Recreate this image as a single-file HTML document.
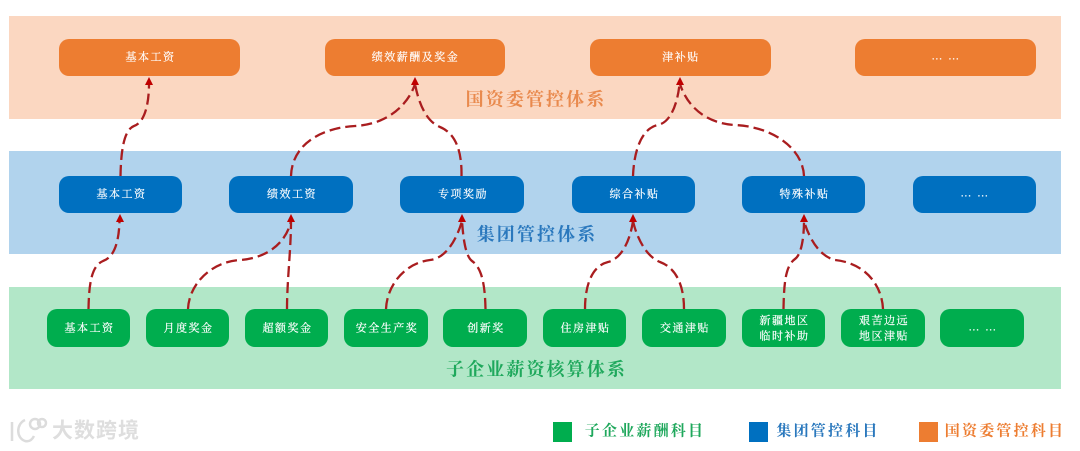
<!DOCTYPE html>
<html lang="zh">
<head>
<meta charset="utf-8">
<style>
html,body{margin:0;padding:0;background:#fff;width:1080px;height:451px;overflow:hidden}
svg{display:block}
text{font-family:"Liberation Serif","Noto Serif CJK SC",serif;text-anchor:middle}
.n{fill:#fff;stroke:#fff;stroke-width:.2;font-size:11px;letter-spacing:1.5px;dominant-baseline:central}
.t{font-size:18px;font-weight:700;letter-spacing:2.1px;dominant-baseline:central}
.l{font-size:15px;font-weight:700;letter-spacing:2.2px;dominant-baseline:central}
.c path{fill:none;stroke:#a91d1f;stroke-width:2.3;stroke-dasharray:11 5}
.a path{fill:#c00000}
</style>
</head>
<body>
<svg width="1080" height="451" viewBox="0 0 1080 451" xmlns="http://www.w3.org/2000/svg">
<rect x="9" y="16" width="1052" height="103" fill="#fbd7c1"/>
<rect x="9" y="151" width="1052" height="103" fill="#b1d3ed"/>
<rect x="9" y="287" width="1052" height="102" fill="#b2e7c8"/>

<g fill="#ed7d31">
<rect x="59" y="39" width="181" height="37" rx="10"/>
<rect x="325" y="39" width="180" height="37" rx="10"/>
<rect x="590" y="39" width="181" height="37" rx="10"/>
<rect x="855" y="39" width="181" height="37" rx="10"/>
</g>
<g fill="#0070c0">
<rect x="59" y="176" width="123" height="37" rx="10"/>
<rect x="229" y="176" width="124" height="37" rx="10"/>
<rect x="400" y="176" width="124" height="37" rx="10"/>
<rect x="572" y="176" width="123" height="37" rx="10"/>
<rect x="742" y="176" width="123" height="37" rx="10"/>
<rect x="913" y="176" width="123" height="37" rx="10"/>
</g>
<g fill="#00ad4e">
<rect x="47" y="309" width="83" height="38" rx="10"/>
<rect x="146" y="309" width="83" height="38" rx="10"/>
<rect x="245" y="309" width="83" height="38" rx="10"/>
<rect x="344" y="309" width="84" height="38" rx="10"/>
<rect x="443" y="309" width="84" height="38" rx="10"/>
<rect x="543" y="309" width="83" height="38" rx="10"/>
<rect x="642" y="309" width="84" height="38" rx="10"/>
<rect x="742" y="309" width="83" height="38" rx="10"/>
<rect x="841" y="309" width="84" height="38" rx="10"/>
<rect x="940" y="309" width="84" height="38" rx="10"/>
</g>

<g class="c">
<path d="M120.5 176 C121 150,124 130,134 126 C146 122,149 100,149 84"/>
<path d="M291 176 C292 145,320 128,355 126 C392 124,410 100,415 84"/>
<path d="M461.5 176 C462 150,455 133,440 127 C425 121,418 100,415 84"/>
<path d="M633 176 C634 150,642 128,658 125 C672 122,678 100,679.5 84"/>
<path d="M804 176 C803 150,775 127,735 125 C700 123,685 100,680 84"/>
<path d="M88.5 309 C89 285,91 266,103 261 C115 257,119 240,119.5 221"/>
<path d="M188 309 C189 285,210 262,240 260 C270 258,287 240,291 221"/>
<path d="M287 309 C287 280,291 250,291 221"/>
<path d="M386 309 C387 285,405 263,430 260 C448 258,458 235,462 221"/>
<path d="M485.5 309 C485 285,482 268,472 261 C465 256,463 235,462 221"/>
<path d="M585 309 C585 285,592 266,608 262 C624 258,631 235,633 221"/>
<path d="M684 309 C684 285,676 268,660 262 C645 256,636 235,633 221"/>
<path d="M783.5 309 C784 285,785 266,795 259 C802 254,804 235,804 221"/>
<path d="M883 309 C882 285,865 263,835 260 C818 256,808 235,804 221"/>
</g>
<g class="a">
<path d="M149 77 l-4 8 h8 z"/>
<path d="M415 77 l-4 8 h8 z"/>
<path d="M680 77 l-4 8 h8 z"/>
<path d="M120 214 l-4 8 h8 z"/>
<path d="M291 214 l-4 8 h8 z"/>
<path d="M462 214 l-4 8 h8 z"/>
<path d="M633 214 l-4 8 h8 z"/>
<path d="M804 214 l-4 8 h8 z"/>
</g>

<text class="n" x="150.5" y="57.5">基本工资</text>
<text class="n" x="415.5" y="57.5">绩效薪酬及奖金</text>
<text class="n" x="681" y="57.5">津补贴</text>
<text class="n" x="946" y="56.5">… …</text>

<text class="n" x="121.5" y="194.5">基本工资</text>
<text class="n" x="292" y="194.5">绩效工资</text>
<text class="n" x="463" y="194.5">专项奖励</text>
<text class="n" x="634.5" y="194.5">综合补贴</text>
<text class="n" x="804.5" y="194.5">特殊补贴</text>
<text class="n" x="975" y="193.5">… …</text>

<text class="n" x="89.5" y="328.5">基本工资</text>
<text class="n" x="188.5" y="328.5">月度奖金</text>
<text class="n" x="287.5" y="328.5">超额奖金</text>
<text class="n" x="387" y="328.5">安全生产奖</text>
<text class="n" x="486" y="328.5">创新奖</text>
<text class="n" x="585.5" y="328.5">住房津贴</text>
<text class="n" x="685" y="328.5">交通津贴</text>
<text class="n" x="784.5" y="321">新疆地区</text>
<text class="n" x="784.5" y="336.5">临时补助</text>
<text class="n" x="884" y="321">艰苦边远</text>
<text class="n" x="884" y="336.5">地区津贴</text>
<text class="n" x="983" y="327.5">… …</text>

<text class="t" x="536" y="99.5" fill="#e98a4e">国资委管控体系</text>
<text class="t" x="537" y="234.5" fill="#2a78bd">集团管控体系</text>
<text class="t" x="536.5" y="369.5" fill="#1fa85c">子企业薪资核算体系</text>

<rect x="553" y="422" width="19" height="20" fill="#00ad4e"/>
<rect x="749" y="422" width="19" height="20" fill="#0070c0"/>
<rect x="919" y="422" width="19" height="20" fill="#ed7d31"/>
<text class="l" x="645" y="431.5" fill="#1fa85c">子企业薪酬科目</text>
<text class="l" x="828" y="431.5" fill="#2a78bd">集团管控科目</text>
<text class="l" x="1005" y="431.5" fill="#ed7d31">国资委管控科目</text>

<g fill="none" stroke="#dcdcdc" stroke-width="2.5">
<path d="M12 422 V441"/>
<path d="M25 420 C16 424,16 438,25 441 C29 442,32 440,34 436"/>
<circle cx="35" cy="424" r="5"/>
<circle cx="42" cy="423" r="4"/>
</g>
<text x="96" y="431" font-size="21" font-weight="700" fill="#dedede" letter-spacing="1" dominant-baseline="central" style="font-family:'Liberation Sans','Noto Sans CJK SC',sans-serif">大数跨境</text>
</svg>
</body>
</html>
